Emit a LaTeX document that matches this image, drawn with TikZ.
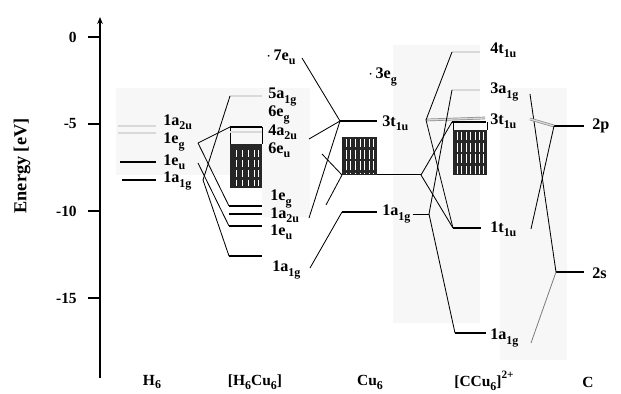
\documentclass[tikz,border=0pt]{standalone}
\usepackage{fontspec}
\setmainfont{Liberation Serif}
\usetikzlibrary{arrows.meta}
\newcommand{\ssub}[1]{\raisebox{-0.55ex}{\fontsize{8.5}{9}\selectfont #1}}

\begin{document}
\begin{tikzpicture}[x=0.025cm, y=-0.025cm,
    occ/.style={line width=1.6pt},
    thinocc/.style={line width=1pt},
    virt/.style={draw=black!45, double=black!15, double distance=0.9pt, line width=0.5pt},
    pair/.style={draw=black, double=white, double distance=0.5pt, line width=0.4pt},
    conn/.style={line width=0.6pt},
    lab/.style={anchor=west, inner sep=0pt, font=\bfseries\fontsize{11.5}{12}\selectfont},
    frag/.style={inner sep=0pt, font=\bfseries\fontsize{11}{12}\selectfont},
    shade/.style={fill=black!3, draw=none},
    band/.style={fill=black!85},
]
\useasboundingbox (0,0) rectangle (621,394);

% background panels
\fill[shade] (116,88) rectangle (310,175);
\fill[shade] (262,175) rectangle (310,217);
\fill[shade] (393,45) rectangle (480,323);
\fill[shade] (500,88) rectangle (567,360);

% energy axis
\draw[line width=1.2pt, -{Stealth[length=5pt, width=4pt]}] (100,378) -- (100,17);
\foreach \e/\yy in {0/37, -5/124, -10/211, -15/298} {
  \draw[line width=1.1pt] (88,\yy) -- (100,\yy);
  \node[anchor=east, inner sep=0pt, font=\bfseries\fontsize{11}{12}\selectfont] at (77,\yy) {\e};
}
\node[rotate=90, font=\bfseries\fontsize{13}{14}\selectfont] (elab) at (22,166) {Energy [eV]};

% H6
\draw[virt] (118,126) -- (156,126);
\draw[virt] (118,133) -- (156,133);
\draw[occ] (120,162) -- (156,162);
\draw[thinocc] (122,180) -- (156,180);
\node[lab] (h-a2u) at (163,122) {1a\ssub{2u}};
\node[lab] (h-eg) at (163,142) {1e\ssub{g}};
\node[lab] (h-eu) at (163,162) {1e\ssub{u}};
\node[lab] (h-a1g) at (163,181) {1a\ssub{1g}};
\coordinate (hEg) at (198,143);
\coordinate (hEu) at (198,163);
\coordinate (hA1g) at (203,180);

% [H6Cu6]
\draw[virt] (230,96) coordinate (m5a1g) -- (262,96);
\draw[line width=0.5pt] (230,127) -- (230,144) (262,127) -- (262,144);
\draw[occ] (230,127) coordinate (m6eg) -- (262,127);
\draw[virt] (230,132) -- (262,132);
\fill[band] (230,144) coordinate (m6eu) rectangle (262,188);
\foreach \xx in {236,242,248,254,258}
  \draw[white, line width=0.5pt, dash pattern=on 5pt off 2pt] (\xx,150) -- (\xx,186);
\draw[occ] (229,206) coordinate (m1egL) -- (262,206);
\draw[occ] (229,214) -- (262,214);
\draw[occ] (229,226) coordinate (m1euL) -- (262,226);
\draw[thinocc] (229,256) coordinate (m1a1gL) -- (262,256);
\node[lab] (m-7eu) at (266,57) {$\cdot$\,7e\ssub{u}};
\node[lab] (m-5a1g) at (268,97) {5a\ssub{1g}};
\node[lab] (m-6eg) at (268,115) {6e\ssub{g}};
\node[lab] (m-4a2u) at (268,132) {4a\ssub{2u}};
\node[lab] (m-6eu) at (268,150) {6e\ssub{u}};
\node[lab] (m-1eg) at (270,199) {1e\ssub{g}};
\node[lab] (m-1a2u) at (270,215) {1a\ssub{2u}};
\node[lab] (m-1eu) at (270,232) {1e\ssub{u}};
\node[lab] (m-1a1g) at (272,270) {1a\ssub{1g}};
\coordinate (m7eu) at (302,58);
\coordinate (m4a2u) at (309,139);
\coordinate (m6euR) at (322,154);
\coordinate (m1egR) at (326,205);
\coordinate (m1a2u) at (309,218);
\coordinate (m1a1g) at (310,268);

% H6 -> [H6Cu6]
\draw[conn] (hA1g) -- (m5a1g);
\draw[conn] (hA1g) -- (m1a1gL);
\draw[conn] (hEg) -- (m6eg);
\draw[conn] (hEg) -- (m1egL);
\draw[conn] (hEu) -- (m1euL);

% Cu6
\draw[occ] (340,121) coordinate (cT) -- (377,121);
\fill[band] (342,137) rectangle (377,175);
\foreach \xx in {346,350,355,360,364,369,373}
  \draw[white, line width=0.45pt, dash pattern=on 6pt off 2pt] (\xx,139) -- (\xx,174);
\coordinate (cD) at (342,175);
\draw[pair] (377,175) -- (421,175) coordinate (cuD);
\draw[occ] (342,212) coordinate (cA) -- (377,212);
\node[lab] (c-3eg) at (368,77) {$\cdot$\,3e\ssub{g}};
\node[lab] (c-3t1u) at (382,123) {3t\ssub{1u}};
\node[lab] (c-1a1g) at (382,214) {1a\ssub{1g}};
\coordinate (cuT) at (426,120);
\coordinate (cuA) at (429,214);
\draw[conn] (c-1a1g.east) ++(2,0) coordinate (cuA0) -- (cuA);

% [H6Cu6] -> Cu6
\draw[conn] (m7eu) -- (cT);
\draw[conn] (m4a2u) -- (cT);
\draw[conn] (m1a2u) -- (cT);
\draw[conn] (m6euR) -- (cD);
\draw[conn] (m1egR) -- (cD);
\draw[conn] (m1a1g) -- (cA);

% [CCu6]
\draw[virt] (452,52) coordinate (x4t1u) -- (480,52);
\draw[virt] (452,90) coordinate (x3a1g) -- (480,90);
\draw[virt] (cuT) -- (485,118);
\draw[occ] (452,122) coordinate (x3t1u) -- (486,122);
\draw[line width=0.5pt] (453,122) -- (453,130) (487,122) -- (487,130);
\fill[band] (453,130) rectangle (487,175);
\foreach \xx in {457,461,466,470,475,479,483}
  \draw[white, line width=0.45pt, dash pattern=on 6pt off 2pt] (\xx,132) -- (\xx,174);
\draw[occ] (453,228) coordinate (x1t1u) -- (481,228);
\draw[thinocc] (455,333) coordinate (x1a1g) -- (486,333);
\node[lab] (x-4t1u) at (490,50) {4t\ssub{1u}};
\node[lab] (x-3a1g) at (490,92) {3a\ssub{1g}};
\node[lab] (x-3t1u) at (490,121) {3t\ssub{1u}};
\node[lab] (x-1t1u) at (490,229) {1t\ssub{1u}};
\node[lab] (x-1a1g) at (490,338) {1a\ssub{1g}};
\coordinate (xA) at (530,94);
\coordinate (xT) at (530,119);
\coordinate (xL) at (531,229);
\coordinate (xB) at (531,343);

% Cu6 -> [CCu6]
\draw[conn] (cuT) -- (x4t1u);
\draw[conn] (cuT) -- (x1t1u);
\draw[conn] (cuD) -- (x3t1u);
\draw[conn] (cuD) -- (x1t1u);
\draw[conn] (cuA) -- (x3a1g);
\draw[conn] (cuA) -- (x1a1g);

% C
\draw[occ] (554,126) coordinate (c2p) -- (584,126);
\draw[occ] (556,272) coordinate (c2s) -- (584,272);
\node[lab] (c-2p) at (592,126) {2p};
\node[lab] (c-2s) at (592,273) {2s};

% [CCu6] -> C
\draw[conn] (xA) -- (c2s);
\draw[virt] (xT) -- (c2p);
\draw[conn] (xL) -- (c2p);
\draw[conn, black!50] (xB) -- (c2s);

% fragment names
\node[frag] (f-h6) at (152,382) {H\ssub{6}};
\node[frag] (f-h6cu6) at (255,382) {[H\ssub{6}Cu\ssub{6}]};
\node[frag] (f-cu6) at (370,382) {Cu\ssub{6}};
\node[frag] (f-ccu6) at (484,381) {[CCu\ssub{6}]\raisebox{1.1ex}{\fontsize{8}{8}\selectfont 2+}};
\node[frag] (f-c) at (588,382) {C};
\end{tikzpicture}
\end{document}
